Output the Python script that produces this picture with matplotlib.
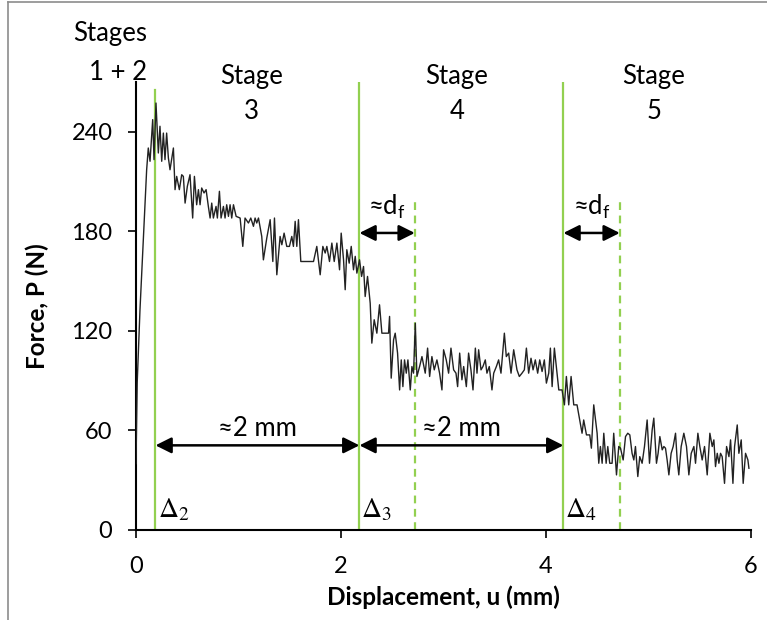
import matplotlib.pyplot as plt
from matplotlib.lines import Line2D

plt.rcParams['font.family'] = ['Lato', 'DejaVu Sans']

# force-displacement record, values
u_mm = [
    0.000, 0.012, 0.039, 0.072, 0.104, 0.120, 0.137, 0.163, 0.176, 0.195,
    0.218, 0.234, 0.251, 0.267, 0.283, 0.299, 0.316, 0.332, 0.365, 0.381,
    0.397, 0.423, 0.446, 0.462, 0.479, 0.501, 0.527, 0.553, 0.570, 0.592,
    0.609, 0.625, 0.641, 0.664, 0.684, 0.706, 0.723, 0.739, 0.755, 0.781,
    0.794, 0.814, 0.830, 0.853, 0.869, 0.885, 0.902, 0.918, 0.934, 0.951,
    0.977, 1.016, 1.042, 1.064, 1.097, 1.120, 1.146, 1.162, 1.178, 1.195,
    1.227, 1.243, 1.276, 1.309, 1.335, 1.351, 1.374, 1.406, 1.423, 1.445,
    1.471, 1.497, 1.520, 1.536, 1.553, 1.569, 1.585, 1.608, 1.634, 1.699,
    1.732, 1.764, 1.797, 1.823, 1.846, 1.862, 1.888, 1.911, 1.934, 1.960,
    1.986, 2.002, 2.025, 2.041, 2.057, 2.080, 2.100, 2.122, 2.139, 2.155,
    2.181, 2.201, 2.220, 2.236, 2.259, 2.285, 2.301, 2.324, 2.350, 2.376,
    2.399, 2.464, 2.474, 2.490, 2.513, 2.529, 2.552, 2.572, 2.588, 2.604,
    2.620, 2.637, 2.653, 2.676, 2.692, 2.708, 2.725, 2.741, 2.767, 2.790,
    2.822, 2.845, 2.865, 2.887, 2.910, 2.936, 2.962, 2.985, 3.001, 3.027,
    3.050, 3.073, 3.099, 3.122, 3.138, 3.158, 3.180, 3.197, 3.223, 3.245,
    3.268, 3.288, 3.311, 3.327, 3.343, 3.366, 3.385, 3.408, 3.424, 3.447,
    3.473, 3.490, 3.516, 3.538, 3.561, 3.594, 3.613, 3.636, 3.659, 3.685,
    3.701, 3.717, 3.740, 3.766, 3.789, 3.809, 3.831, 3.854, 3.874, 3.896,
    3.919, 3.939, 3.962, 3.984, 4.004, 4.027, 4.043, 4.060, 4.082, 4.108,
    4.125, 4.157, 4.180, 4.199, 4.222, 4.245, 4.271, 4.303, 4.329, 4.352,
    4.368, 4.395, 4.427, 4.443, 4.466, 4.499, 4.515, 4.531, 4.548, 4.564,
    4.587, 4.603, 4.622, 4.645, 4.661, 4.688, 4.710, 4.727, 4.753, 4.776,
    4.798, 4.818, 4.840, 4.857, 4.873, 4.896, 4.915, 4.938, 4.961, 4.987,
    5.010, 5.036, 5.052, 5.078, 5.094, 5.111, 5.134, 5.150, 5.166, 5.182,
    5.199, 5.221, 5.241, 5.264, 5.280, 5.296, 5.319, 5.345, 5.371, 5.394,
    5.417, 5.443, 5.459, 5.482, 5.501, 5.524, 5.547, 5.573, 5.599, 5.622,
    5.638, 5.654, 5.671, 5.687, 5.703, 5.719, 5.742, 5.762, 5.785, 5.801,
    5.824, 5.840, 5.866, 5.882, 5.905, 5.924, 5.947, 5.970, 5.980,
]
force_N = [
    40.0, 89.0, 132.7, 174.9, 217.1, 230.2, 222.2, 247.3, 223.2, 257.3,
    227.2, 243.3, 222.2, 239.2, 223.2, 239.2, 224.2, 217.1, 230.2, 205.1,
    213.1, 205.1, 214.1, 213.1, 197.0, 207.1, 214.1, 188.0, 213.1, 196.0,
    205.1, 196.0, 206.1, 203.1, 205.1, 195.0, 188.0, 197.0, 188.0, 195.0,
    188.0, 204.1, 188.0, 195.0, 188.0, 196.0, 189.0, 196.0, 188.0, 196.0,
    189.0, 188.0, 170.9, 188.0, 185.0, 188.0, 183.0, 188.0, 185.0, 188.0,
    176.9, 162.8, 175.9, 187.0, 161.8, 188.0, 153.8, 176.9, 171.9, 178.9,
    170.9, 170.9, 176.9, 170.9, 186.0, 170.9, 187.0, 161.8, 161.8, 161.8,
    161.8, 170.9, 153.8, 170.9, 166.9, 170.9, 161.8, 172.9, 161.8, 172.9,
    156.8, 178.9, 162.8, 144.8, 168.9, 160.8, 170.9, 156.8, 164.9, 154.8,
    162.8, 152.8, 158.8, 140.7, 152.8, 136.7, 112.6, 126.7, 118.6, 135.7,
    118.6, 118.6, 128.7, 91.5, 114.6, 118.6, 106.6, 84.4, 102.5, 86.4,
    102.5, 94.5, 102.5, 84.4, 98.5, 94.5, 124.6, 92.5, 98.5, 104.5,
    94.5, 109.6, 92.5, 104.5, 96.5, 102.5, 94.5, 84.4, 108.6, 102.5,
    94.5, 109.6, 96.5, 94.5, 86.4, 106.6, 90.5, 98.5, 86.4, 106.6,
    96.5, 84.4, 109.6, 94.5, 108.6, 96.5, 98.5, 102.5, 94.5, 98.5,
    84.4, 94.5, 98.5, 102.5, 94.5, 118.6, 104.5, 106.6, 94.5, 108.6,
    102.5, 96.5, 92.5, 94.5, 96.5, 109.6, 94.5, 103.5, 96.5, 102.5,
    94.5, 102.5, 95.5, 102.5, 88.5, 94.5, 109.6, 86.4, 109.6, 94.5,
    84.4, 84.4, 75.4, 92.5, 75.4, 92.5, 75.4, 75.4, 66.3, 58.3,
    66.3, 57.3, 57.3, 49.3, 75.4, 58.3, 40.2, 50.3, 40.2, 58.3,
    40.2, 50.3, 40.2, 40.2, 58.3, 33.2, 50.3, 49.3, 42.2, 56.3,
    58.3, 57.3, 46.2, 42.2, 50.3, 32.2, 44.2, 40.2, 50.3, 66.3,
    40.2, 60.3, 67.4, 40.2, 46.2, 56.3, 48.3, 50.3, 49.3, 42.2,
    33.2, 46.2, 50.3, 58.3, 42.2, 33.2, 50.3, 58.3, 50.3, 33.2,
    46.2, 50.3, 40.2, 58.3, 50.3, 42.2, 50.3, 33.2, 58.3, 50.3,
    54.3, 38.2, 46.2, 40.2, 46.2, 44.2, 28.1, 50.3, 44.2, 54.3,
    28.1, 50.3, 63.3, 46.2, 54.3, 28.1, 46.2, 42.2, 37.2,
]

stage_lines = [0.19, 2.18, 4.17]
df_lines = [2.72, 4.72]
delta_labels = [r'$\Delta_2$', r'$\Delta_3$', r'$\Delta_4$']
stage_nums = ['3', '4', '5']
stage_x = [1.13, 3.13, 5.05]
x_ticks = [0, 2, 4, 6]
y_ticks = [0, 60, 120, 180, 240]

green = '#92d050'

fig = plt.figure(figsize=(7.67, 6.2), dpi=100)
ax = fig.add_axes([0.1773, 0.1452, 0.8018, 0.7226])

ax.plot(u_mm, force_N, color='#222222', lw=1.0, zorder=3)

# stage boundaries
for i, x in enumerate(stage_lines):
    top = 265 if i == 0 else 270
    ax.plot([x, x], [0, top], color=green, lw=1.6, zorder=2)
    ax.text(x + 0.02, 12, delta_labels[i], fontsize=20, math_fontfamily='stix',
            ha='left', va='center')
for x in df_lines:
    ax.plot([x, x], [0, 200], color=green, lw=1.6, ls=(0, (3.5, 2.5)), zorder=2)

arrow = dict(arrowstyle='<|-|>', color='black', lw=1.8, mutation_scale=24,
             shrinkA=0, shrinkB=0)

# ~2 mm spans
for a, b in [(stage_lines[0], stage_lines[1]), (stage_lines[1], stage_lines[2])]:
    ax.annotate('', xy=(b, 51), xytext=(a, 51), arrowprops=arrow)
    ax.text((a + b) / 2, 61, '≈2 mm', fontsize=18.5, ha='center', va='center')

# ~d_f spans
for a, b in zip(stage_lines[1:], df_lines):
    ax.annotate('', xy=(b, 179), xytext=(a, 179), arrowprops=arrow)
    ax.text((a + b) / 2, 195, r'≈d$_\mathregular{f}$', fontsize=18.5,
            ha='center', va='center')

# stage titles
ax.text(0.11, 299, 'Stages', fontsize=18.5, ha='right', va='center', clip_on=False)
ax.text(0.11, 276, '1 + 2', fontsize=18.5, ha='right', va='center', clip_on=False)
for x, n in zip(stage_x, stage_nums):
    ax.text(x, 273, 'Stage', fontsize=18.5, ha='center', va='center', clip_on=False)
    ax.text(x, 252, n, fontsize=18.5, ha='center', va='center', clip_on=False)

ax.set_xlim(0, 6)
ax.set_ylim(0, 270)
ax.set_xticks(x_ticks)
ax.set_yticks(y_ticks)
ax.tick_params(direction='out', length=6, width=1.2, labelsize=17)
ax.tick_params(axis='x', pad=13)
ax.tick_params(axis='y', pad=11)
for s in ['top', 'right']:
    ax.spines[s].set_visible(False)
for s in ['left', 'bottom']:
    ax.spines[s].set_linewidth(1.5)

ax.set_xlabel('Displacement, u (mm)', fontsize=17.5, fontweight='bold', labelpad=6)
ax.set_ylabel('Force, P (N)', fontsize=17.5, fontweight='bold', labelpad=16)

# grey frame around the picture
fig.add_artist(Line2D([0.0105, 0.0105], [0, 0.997], transform=fig.transFigure,
                      color='#8c8c8c', lw=1.2))
fig.add_artist(Line2D([0.0105, 1], [0.997, 0.997], transform=fig.transFigure,
                      color='#8c8c8c', lw=1.2))

fig.savefig('out.png', dpi=100)
